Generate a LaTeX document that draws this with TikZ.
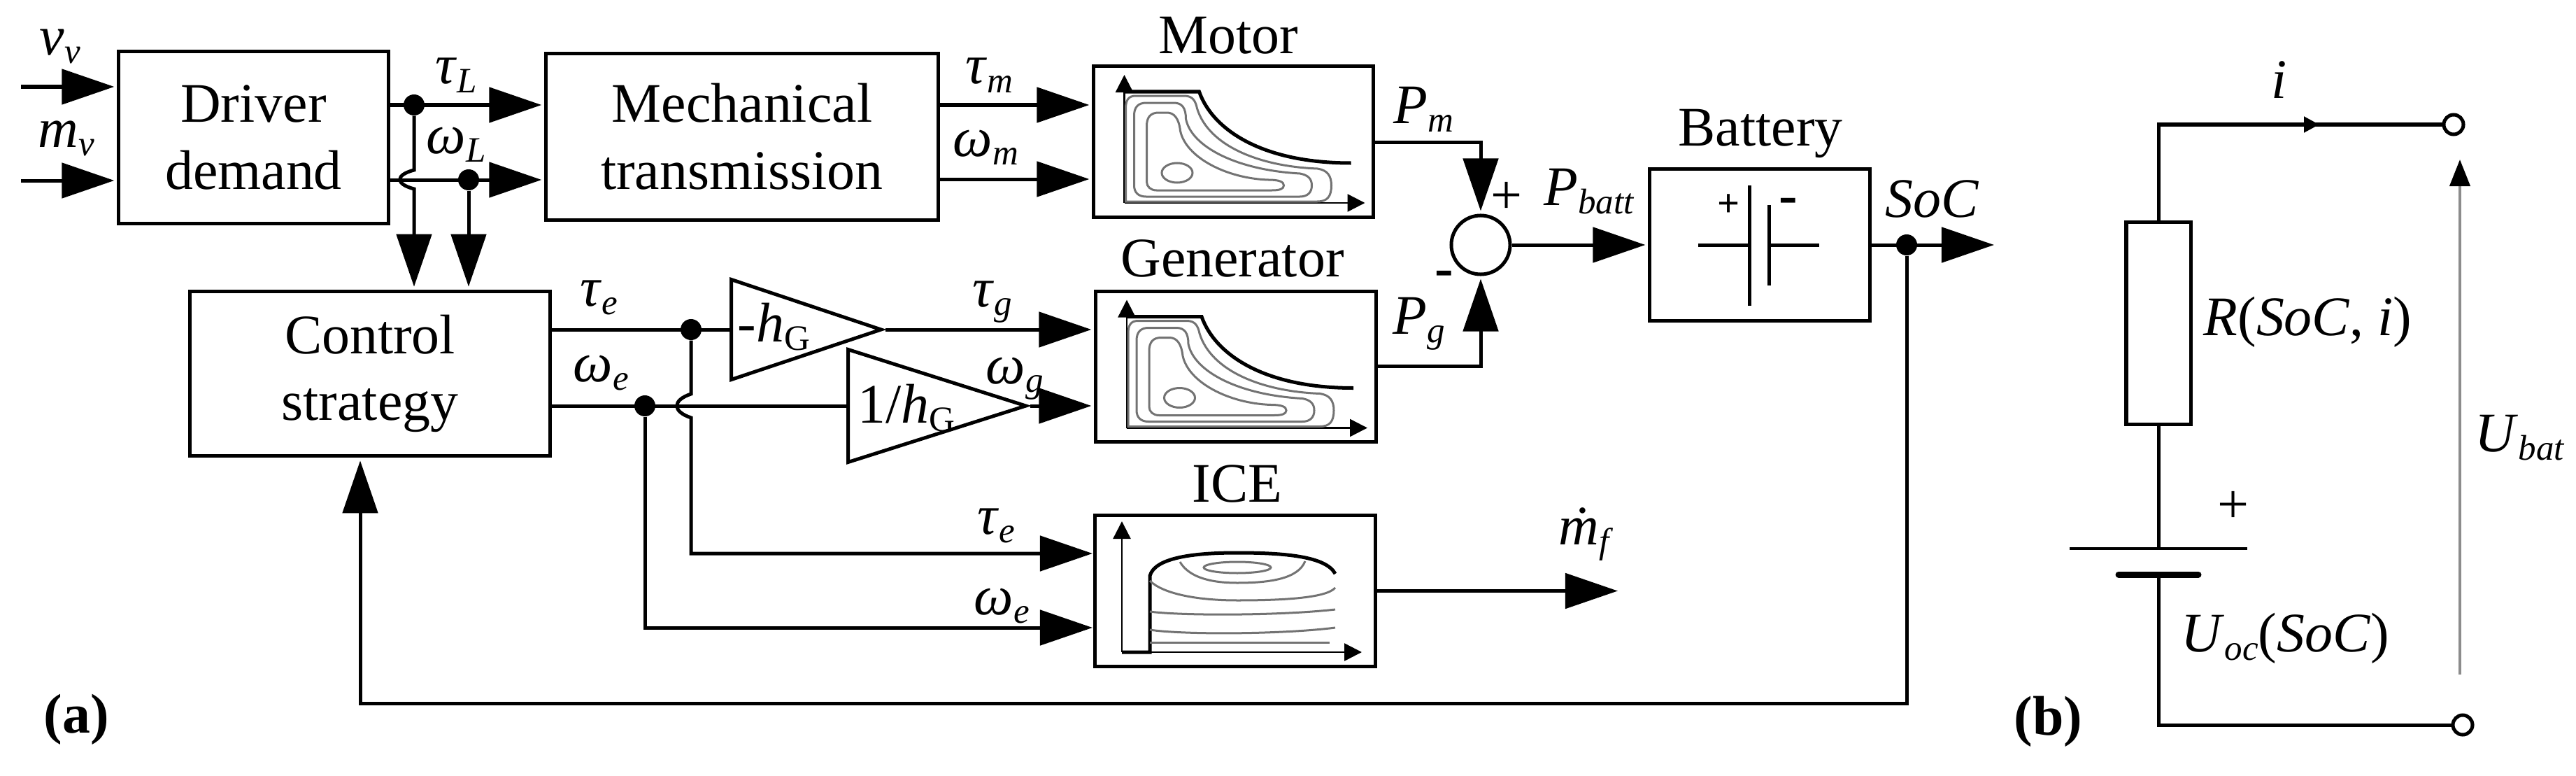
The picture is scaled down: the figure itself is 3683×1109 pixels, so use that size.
\documentclass[tikz,border=0pt]{standalone}
\usepackage{fontspec}
\setmainfont{Liberation Serif}
\usetikzlibrary{arrows.meta, shapes.geometric}

% subscripts, a little below the baseline
\newcommand{\sbi}[1]{\raisebox{-.16em}{\fontsize{14.5}{14.5}\selectfont\textit{#1}}}
\newcommand{\sbu}[1]{\raisebox{-.16em}{\fontsize{14.5}{14.5}\selectfont #1}}

\tikzset{
    wire/.style={line width=.05cm},
    arr/.style={wire, -{Triangle[length=.75cm,width=.5cm]}, shorten >=.04cm},
    box/.style={draw, line width=.05cm, rectangle, inner sep=0, align=center},
    dot/.style={circle, fill=black, inner sep=0, minimum size=.3cm},
    term/.style={circle, draw, fill=white, line width=.05cm, inner sep=0, minimum size=.28cm},
    amp/.style={isosceles triangle, isosceles triangle stretches, draw, line width=.05cm,
        inner sep=0, shape border rotate=0, anchor=lower side},
    lab/.style={anchor=base west, inner sep=0},
    ttl/.style={anchor=base, inner sep=0},
    contour/.style={draw=black!55, line width=.03cm},
    axis/.style={line width=.025cm, -{Triangle[length=.25cm,width=.25cm]}},
    bold/.style={line width=.05cm},
    effmap/.pic={
        \draw[axis] (44,195) -- (44,12);
        \draw[axis] (44,195) -- (388,195);
        \draw[bold] (44,36) -- (151,36) .. controls (170,90) and (240,138) .. (368,138);
        \draw[contour] (46,60) .. controls (46,48) and (50,42) .. (60,42) -- (130,42)
            .. controls (142,42) and (146,50) .. (148,60)
            .. controls (165,115) and (240,143) .. (320,146)
            .. controls (334,148) and (340,156) .. (340,170)
            .. controls (340,186) and (334,193) .. (320,193) -- (46,193) -- cycle;
        \draw[contour] (58,70) .. controls (58,58) and (64,52) .. (75,52) -- (115,52)
            .. controls (127,52) and (132,60) .. (132,75)
            .. controls (140,115) and (205,148) .. (295,153)
            .. controls (306,155) and (312,160) .. (312,170)
            .. controls (312,180) and (306,186) .. (295,186) -- (75,186)
            .. controls (64,186) and (58,180) .. (58,170) -- cycle;
        \draw[contour] (76,85) .. controls (76,72) and (82,66) .. (93,66) -- (105,66)
            .. controls (115,66) and (122,74) .. (124,92)
            .. controls (132,130) and (190,160) .. (250,162)
            .. controls (266,162) and (272,165) .. (272,170)
            .. controls (272,175) and (266,177) .. (255,177) -- (90,177)
            .. controls (82,177) and (76,172) .. (76,165) -- cycle;
        \draw[contour] (119.5,152) ellipse [x radius=22, y radius=14];
    },
    icemap/.pic={
        \draw[axis] (38,195) -- (38,8);
        \draw[axis] (38,195) -- (381,195);
        \draw[bold] (38,195) -- (78,195) -- (78,86)
            .. controls (85,60) and (140,53) .. (203,53)
            .. controls (270,53) and (330,58) .. (343,83);
        \draw[contour] (121,66) .. controls (135,90) and (170,96) .. (203,96)
            .. controls (250,96) and (290,90) .. (300,65);
        \draw[contour] (203,74) ellipse [x radius=48, y radius=8];
        \draw[contour] (78,93) .. controls (95,110) and (140,121) .. (203,121)
            .. controls (265,121) and (330,118) .. (343,103);
        \draw[contour] (78,137) .. controls (120,143) and (265,143) .. (343,134);
        \draw[contour] (78,163) .. controls (120,170) and (265,170) .. (343,160);
        \draw[contour] (78,181) -- (335,181);
    },
}

\begin{document}
\begin{tikzpicture}[x=.01cm, y=-.01cm,
        every node/.style={font=\fontsize{22.7}{27.2}\selectfont}]
    \useasboundingbox (0,0) rectangle (3683,1109);

    % main blocks
    \node[box, minimum width=3.85cm, minimum height=2.45cm] (drv) at (362.5,196.5) {Driver\\demand};
    \node[box, minimum width=5.6cm, minimum height=2.37cm] (mech) at (1061,195.5) {Mechanical\\transmission};
    \node[box, minimum width=5.14cm, minimum height=2.355cm] (ctl) at (529,534) {Control\\strategy};
    \node[box, minimum width=3.99cm, minimum height=2.15cm] (mot) at (1763.5,202.5) {};
    \node[box, minimum width=4cm, minimum height=2.155cm] (gen) at (1767,524) {};
    \node[box, minimum width=4cm, minimum height=2.15cm] (ice) at (1766,844.5) {};
    \node[box, minimum width=3.14cm, minimum height=2.16cm] (bat) at (2516,350) {};
    \node[circle, draw, line width=.05cm, inner sep=0, minimum size=.84cm] (sum) at (2117,350) {};
    \node[amp, minimum height=2.14cm, minimum width=1.43cm] (tg) at (1043,471) {};
    \node[amp, minimum height=2.54cm, minimum width=1.61cm] (tw) at (1210,580) {};

    % maps inside the machines
    \pic at (1563.5,95) {effmap};
    \pic at (1567,416.5) {effmap};
    \pic at (1566,737) {icemap};

    % block titles
    \node[ttl] (tmot) at (1756,76) {Motor};
    \node[ttl] (tgen) at (1762,395) {Generator};
    \node[ttl] (tice) at (1769,717) {ICE};
    \node[ttl] (tbat) at (2517,208) {Battery};

    % junctions
    \node[dot] (jtl) at (592,150) {};
    \node[dot] (jwl) at (670,257) {};
    \node[dot] (jte) at (988,471) {};
    \node[dot] (jwe) at (922,580) {};
    \node[dot] (jsoc) at (2726,350) {};

    % free ends and bends
    \coordinate (vin) at (30,124);
    \coordinate (min) at (30,258);
    \coordinate (b1) at (592,243);
    \coordinate (b2) at (592,270);
    \coordinate (b3) at (988,563);
    \coordinate (b4) at (988,597);
    \coordinate (ite) at (1566,791);
    \coordinate (iwe) at (1566,897);
    \coordinate (fb) at (515,1005);
    \coordinate (mf) at (2317,844.5);
    \coordinate (socout) at (2855,350);

    % connectors, part (a)
    \draw[arr] (vin) -- (vin -| drv.west);
    \draw[arr] (min) -- (min -| drv.west);
    \draw[arr] (drv.east |- jtl) -- (mech.west |- jtl);
    \draw[arr] (drv.east |- jwl) -- (mech.west |- jwl);
    \draw[arr] (jtl) -- (b1) .. controls (565,250) and (565,263) .. (b2) -- (ctl.north -| jtl);
    \draw[arr] (jwl) -- (ctl.north -| jwl);
    \draw[arr] (mech.east |- 0,150) -- (mot.west |- 0,150);
    \draw[arr] (mech.east |- 0,256) -- (mot.west |- 0,256);
    \draw[wire] (ctl.east |- jte) -- (tg.lower side);
    \draw[wire] (ctl.east |- jwe) -- (tw.lower side);
    \draw[arr] (tg.apex) -- (gen.west |- tg.apex);
    \draw[arr] (tw.apex) -- (gen.west |- tw.apex);
    \draw[arr] (jte) -- (b3) .. controls (961,572) and (961,588) .. (b4) |- (ite);
    \draw[arr] (jwe) |- (iwe);
    \draw[arr] (mot.east |- 0,203) -| (sum.north);
    \draw[arr] (gen.east |- 0,523) -| (sum.south);
    \draw[arr] (sum.east) -- (bat.west);
    \draw[arr] (bat.east) -- (socout);
    \draw[arr] (ice.east) -- (mf);
    \draw[arr] (jsoc) |- (fb) -- (fb |- ctl.south);

    % battery symbol
    \draw[wire] (2501,265) -- (2501,437);
    \draw[wire] (2529,293) -- (2529,408);
    \draw[wire] (2428,350) -- (2501,350);
    \draw[wire] (2529,350) -- (2601,350);
    \node[inner sep=0, font=\fontsize{16}{16}\selectfont\bfseries] (bp) at (2472,294) {+};
    \node[inner sep=0, font=\fontsize{22.7}{27.2}\selectfont\bfseries] (bm) at (2557,294) {-};

    % labels, part (a)
    \node[lab] (lvv) at (56,78) {\textit{v}\sbi{v}};
    \node[lab] (lmv) at (54,210) {\textit{m}\sbi{v}};
    \node[lab] (ltl) at (622,120) {\textit{τ}\sbi{L}};
    \node[lab] (lwl) at (609,219) {\textit{ω}\sbi{L}};
    \node[lab] (ltm) at (1380,120) {\textit{τ}\sbi{m}};
    \node[lab] (lwm) at (1362,223) {\textit{ω}\sbi{m}};
    \node[lab] (lte) at (829,437) {\textit{τ}\sbi{e}};
    \node[lab] (lwe) at (819,545) {\textit{ω}\sbi{e}};
    \node[lab] (lhg) at (1054,488) {-\textit{h}\sbu{G}};
    \node[lab] (lig) at (1226,604) {1/\textit{h}\sbu{G}};
    \node[lab] (ltg) at (1390,438) {\textit{τ}\sbi{g}};
    \node[lab] (lwg) at (1409,548) {\textit{ω}\sbi{g}};
    \node[lab] (lti) at (1397,763) {\textit{τ}\sbi{e}};
    \node[lab] (lwi) at (1392,878) {\textit{ω}\sbi{e}};
    \node[lab] (lpm) at (1992,176) {\textit{P}\sbi{m}};
    \node[lab] (lpg) at (1991,477) {\textit{P}\sbi{g}};
    \node[lab] (lpb) at (2207,293) {\textit{P}\sbi{batt}};
    \node[lab] (lsoc) at (2695,310) {\textit{SoC}};
    \node[lab] (lmf) at (2228,778) {\textit{ṁ}\sbi{f}};
    \node[inner sep=0] (lplus) at (2154,283) {+};
    \node[inner sep=0] (lminus) at (2065,398) {\textbf{-}};
    \node[lab] (cap) at (62,1047) {\textbf{(a)}};

    % part (b), the circuit
    \node[box, minimum width=.92cm, minimum height=2.88cm] (res) at (3086,462) {};
    \node[term] (ttop) at (3508,178) {};
    \node[term] (tbot) at (3521,1036) {};
    \coordinate (plate) at (3086,784);
    \coordinate (plateb) at (3086,821);
    \coordinate (iarr) at (3316,178);
    \coordinate (ubot) at (3517,964);
    \coordinate (utop) at (3517,228);
    \draw[wire, -{Triangle[length=.22cm,width=.22cm]}] (res.north) |- (iarr);
    \draw[wire, shorten <=-.06cm] (iarr) -- (ttop);
    \draw[wire] (res.south) -- (plate);
    \draw[line width=.04cm] (2959,784) -- (3213,784);
    \draw[line width=.09cm, line cap=round] (3029,821) -- (3143,821);
    \draw[wire] (plateb) |- (tbot);
    \draw[draw=black!45, line width=.04cm, -{Triangle[length=.38cm,width=.29cm,black]}] (ubot) -- (utop);
    \node[ttl] (li) at (3259,140) {\textit{i}};
    \node[lab] (lr) at (3150,479) {\textit{R}(\textit{SoC}, \textit{i})};
    \node[inner sep=0] (lp2) at (3193,725) {+};
    \node[lab] (lu) at (3118,931) {\textit{U}\sbi{oc}(\textit{SoC})};
    \node[lab] (lub) at (3538,645) {\textit{U}\sbi{bat}};
    \node[lab] (capb) at (2879,1050) {\textbf{(b)}};
\end{tikzpicture}
\end{document}
